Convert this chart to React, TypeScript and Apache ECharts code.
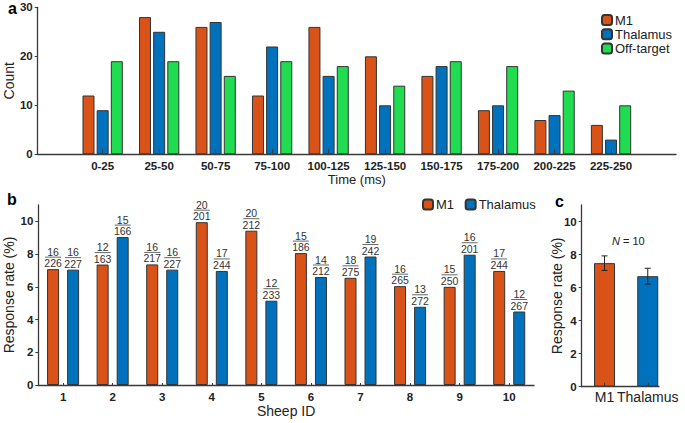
import React, { useEffect, useRef } from 'react';
import * as echarts from 'echarts';

// ---------- data ----------
const timeBins = ['0-25', '25-50', '50-75', '75-100', '100-125', '125-150', '150-175', '175-200', '200-225', '225-250'];
const m1Counts = [12, 28, 26, 12, 26, 20, 16, 9, 7, 6];
const thalCounts = [9, 25, 27, 22, 16, 10, 18, 10, 8, 3];
const offCounts = [19, 19, 16, 19, 18, 14, 19, 18, 13, 10];
const countTicks = [0, 10, 20, 30];

const sheepIds = ['1', '2', '3', '4', '5', '6', '7', '8', '9', '10'];
const m1Rate = [7.08, 7.36, 7.37, 9.95, 9.43, 8.06, 6.55, 6.04, 6.0, 6.97];
const thalRate = [7.05, 9.04, 7.05, 6.97, 5.15, 6.6, 7.85, 4.78, 7.96, 4.49];
const m1Num = [16, 12, 16, 20, 20, 15, 18, 16, 15, 17];
const m1Den = [226, 163, 217, 201, 212, 186, 275, 265, 250, 244];
const thalNum = [16, 15, 16, 17, 12, 14, 19, 13, 16, 12];
const thalDen = [227, 166, 227, 244, 233, 212, 242, 272, 201, 267];
const rateTicks = [0, 2, 4, 6, 8, 10];

const groups = ['M1', 'Thalamus'];
const meanRate = [7.48, 6.69];
const semRate = [0.44, 0.48];

// ---------- styles ----------
const ORANGE = '#D95319';
const BLUE = '#0072BD';
const GREEN = '#20DC50';
const FONT = 'Liberation Sans, Arial, sans-serif';
const AXIS = '#3a3a3a';
const TXT = '#222';

const barItem = (c: string) => ({ color: c, borderColor: '#333', borderWidth: 1 });

const fracRich = {
  n: { fontSize: 10.5, lineHeight: 9, color: '#333', fontFamily: FONT, align: 'center' },
  l: { width: 16, height: 1, lineHeight: 2, backgroundColor: '#666', fontSize: 1 },
  d: { fontSize: 10.5, lineHeight: 10, color: '#333', fontFamily: FONT, align: 'center' },
};

const valAxisY = (gridIndex: number, max: number, interval: number, ticks: number[], name: string, nameGap: number, nameSize: number) => ({
  type: 'value',
  gridIndex,
  min: 0,
  max,
  interval,
  name,
  nameLocation: 'middle',
  nameGap,
  nameMoveOverlap: false,
  nameTextStyle: { fontSize: nameSize, color: TXT, fontFamily: FONT },
  axisLine: { show: true, onZero: false, lineStyle: { color: AXIS, width: 1.3 } },
  axisTick: { show: true, inside: false, length: 3, customValues: ticks, lineStyle: { color: AXIS } },
  axisLabel: { customValues: ticks, fontSize: 11.5, fontWeight: 'bold', color: TXT, fontFamily: FONT, margin: 5 },
  splitLine: { show: false },
});

export default function App() {
  const ref = useRef<HTMLDivElement>(null);
  useEffect(() => {
    document.body.style.margin = '0';
    if (!ref.current) return;
    const chart = echarts.init(ref.current, undefined, { renderer: 'svg' });
    const idx = timeBins.map((_, i) => i);
    const option: any = {
      animation: false,
      textStyle: { fontFamily: FONT },
      grid: [
        { left: 37.7, right: 9, top: 7.3, bottom: 268.7, outerBoundsMode: 'none', containLabel: false },
        { left: 38.3, right: 151, top: 205, bottom: 38, outerBoundsMode: 'none', containLabel: false },
        { left: 581.7, right: 26, top: 205, bottom: 36.3, outerBoundsMode: 'none', containLabel: false },
      ],
      xAxis: [
        {
          type: 'value',
          gridIndex: 0,
          min: -1.15,
          max: 10.15,
          z: 5,
          name: 'Time (ms)',
          nameLocation: 'middle',
          nameGap: 19,
          nameMoveOverlap: false,
          nameTextStyle: { fontSize: 13, color: TXT, fontFamily: FONT },
          axisLine: { show: true, onZero: false, lineStyle: { color: AXIS, width: 1.3 } },
          axisTick: { show: true, inside: true, length: 5, customValues: idx, lineStyle: { color: AXIS } },
          axisLabel: {
            customValues: idx,
            formatter: (v: number) => timeBins[Math.round(v)] ?? '',
            fontSize: 11.5,
            fontWeight: 'bold',
            color: TXT,
            fontFamily: FONT,
            margin: 6,
          },
          splitLine: { show: false },
        },
        {
          type: 'category',
          gridIndex: 1,
          data: sheepIds,
          z: 5,
          name: 'Sheep ID',
          nameLocation: 'middle',
          nameGap: 19,
          nameMoveOverlap: false,
          nameTextStyle: { fontSize: 14, color: TXT, fontFamily: FONT },
          axisLine: { show: true, onZero: false, lineStyle: { color: AXIS, width: 1.3 } },
          axisTick: { show: true, inside: true, length: 2, alignWithLabel: true, lineStyle: { color: AXIS } },
          axisLabel: { fontSize: 11.5, fontWeight: 'bold', color: TXT, fontFamily: FONT, margin: 6 },
        },
        {
          type: 'value',
          gridIndex: 2,
          min: -0.528,
          max: 1.26,
          z: 5,
          axisLine: { show: true, onZero: false, lineStyle: { color: AXIS, width: 1.3 } },
          axisTick: { show: true, inside: true, length: 4, customValues: [0, 1], lineStyle: { color: AXIS } },
          axisLabel: {
            customValues: [0, 1],
            formatter: (v: number) => groups[Math.round(v)] ?? '',
            fontSize: 14,
            color: TXT,
            fontFamily: FONT,
            margin: 3,
          },
          splitLine: { show: false },
        },
      ],
      yAxis: [
        valAxisY(0, 30, 10, countTicks, 'Count', 22, 14),
        valAxisY(1, 11, 2, rateTicks, 'Response rate (%)', 22, 14),
        valAxisY(2, 11, 2, rateTicks, 'Response rate (%)', 18, 14),
      ],
      legend: [
        {
          orient: 'vertical',
          left: 601,
          top: 13.5,
          padding: 0,
          itemWidth: 10,
          itemHeight: 10,
          itemGap: 1.3,
          data: ['M1', 'Thalamus', 'Off-target'],
          textStyle: { fontSize: 13, color: TXT, fontFamily: FONT, padding: [0, 0, 0, -2] },
        },
        {
          orient: 'horizontal',
          left: 422,
          top: 198,
          padding: 0,
          itemWidth: 10,
          itemHeight: 10,
          itemGap: 7,
          data: ['M1 ', 'Thalamus '],
          textStyle: { fontSize: 13, color: TXT, fontFamily: FONT, padding: [0, 0, 0, -2] },
        },
      ],
      series: [
        {
          type: 'bar', name: 'M1', xAxisIndex: 0, yAxisIndex: 0, barWidth: 12, barGap: '18%',
          itemStyle: barItem(ORANGE), data: m1Counts.map((v, i) => [i, v]),
        },
        {
          type: 'bar', name: 'Thalamus', xAxisIndex: 0, yAxisIndex: 0, barWidth: 12, barGap: '18%',
          itemStyle: barItem(BLUE), data: thalCounts.map((v, i) => [i, v]),
        },
        {
          type: 'bar', name: 'Off-target', xAxisIndex: 0, yAxisIndex: 0, barWidth: 12, barGap: '18%',
          itemStyle: barItem(GREEN), data: offCounts.map((v, i) => [i, v]),
        },
        {
          type: 'bar', name: 'M1 ', xAxisIndex: 1, yAxisIndex: 1, barWidth: 12, barGap: '67%',
          itemStyle: barItem(ORANGE), data: m1Rate,
          label: {
            show: true, position: 'top', distance: 1,
            formatter: (p: any) => `{n|${m1Num[p.dataIndex]}}\n{l| }\n{d|${m1Den[p.dataIndex]}}`,
            rich: fracRich,
          },
        },
        {
          type: 'bar', name: 'Thalamus ', xAxisIndex: 1, yAxisIndex: 1, barWidth: 12, barGap: '67%',
          itemStyle: barItem(BLUE), data: thalRate,
          label: {
            show: true, position: 'top', distance: 1,
            formatter: (p: any) => `{n|${thalNum[p.dataIndex]}}\n{l| }\n{d|${thalDen[p.dataIndex]}}`,
            rich: fracRich,
          },
        },
        {
          type: 'bar', name: 'summary', xAxisIndex: 2, yAxisIndex: 2, barWidth: 21,
          data: meanRate.map((v, i) => ({ value: [i, v], itemStyle: barItem(i === 0 ? ORANGE : BLUE) })),
        },
        {
          type: 'custom', name: 'sem', xAxisIndex: 2, yAxisIndex: 2, z: 10,
          data: meanRate.map((v, i) => [i, v, semRate[i]]),
          renderItem: (params: any, api: any) => {
            const x = api.value(0), m = api.value(1), e = api.value(2);
            const top = api.coord([x, m + e]);
            const bot = api.coord([x, m - e]);
            const w = 3;
            const st = { stroke: '#222', lineWidth: 1 };
            return {
              type: 'group',
              children: [
                { type: 'line', shape: { x1: top[0], y1: top[1], x2: bot[0], y2: bot[1] }, style: st },
                { type: 'line', shape: { x1: top[0] - w, y1: top[1], x2: top[0] + w, y2: top[1] }, style: st },
                { type: 'line', shape: { x1: bot[0] - w, y1: bot[1], x2: bot[0] + w, y2: bot[1] }, style: st },
              ],
            };
          },
        },
      ],
      graphic: [
        { type: 'text', left: 8, top: 0, style: { text: 'a', fontSize: 16, fontWeight: 'bold', fill: '#000', fontFamily: FONT } },
        { type: 'text', left: 7, top: 191, style: { text: 'b', fontSize: 16, fontWeight: 'bold', fill: '#000', fontFamily: FONT } },
        { type: 'text', left: 555, top: 193, style: { text: 'c', fontSize: 16, fontWeight: 'bold', fill: '#000', fontFamily: FONT } },
        {
          type: 'text', left: 612, top: 235,
          style: {
            text: '{i|N} = 10',
            rich: { i: { fontStyle: 'italic', fontSize: 11, fill: TXT, fontFamily: FONT } },
            fontSize: 11, fill: TXT, fontFamily: FONT,
          },
        },
      ],
    };
    chart.setOption(option);
    return () => chart.dispose();
  }, []);
  return <div ref={ref} style={{ width: 685, height: 423 }} />;
}
